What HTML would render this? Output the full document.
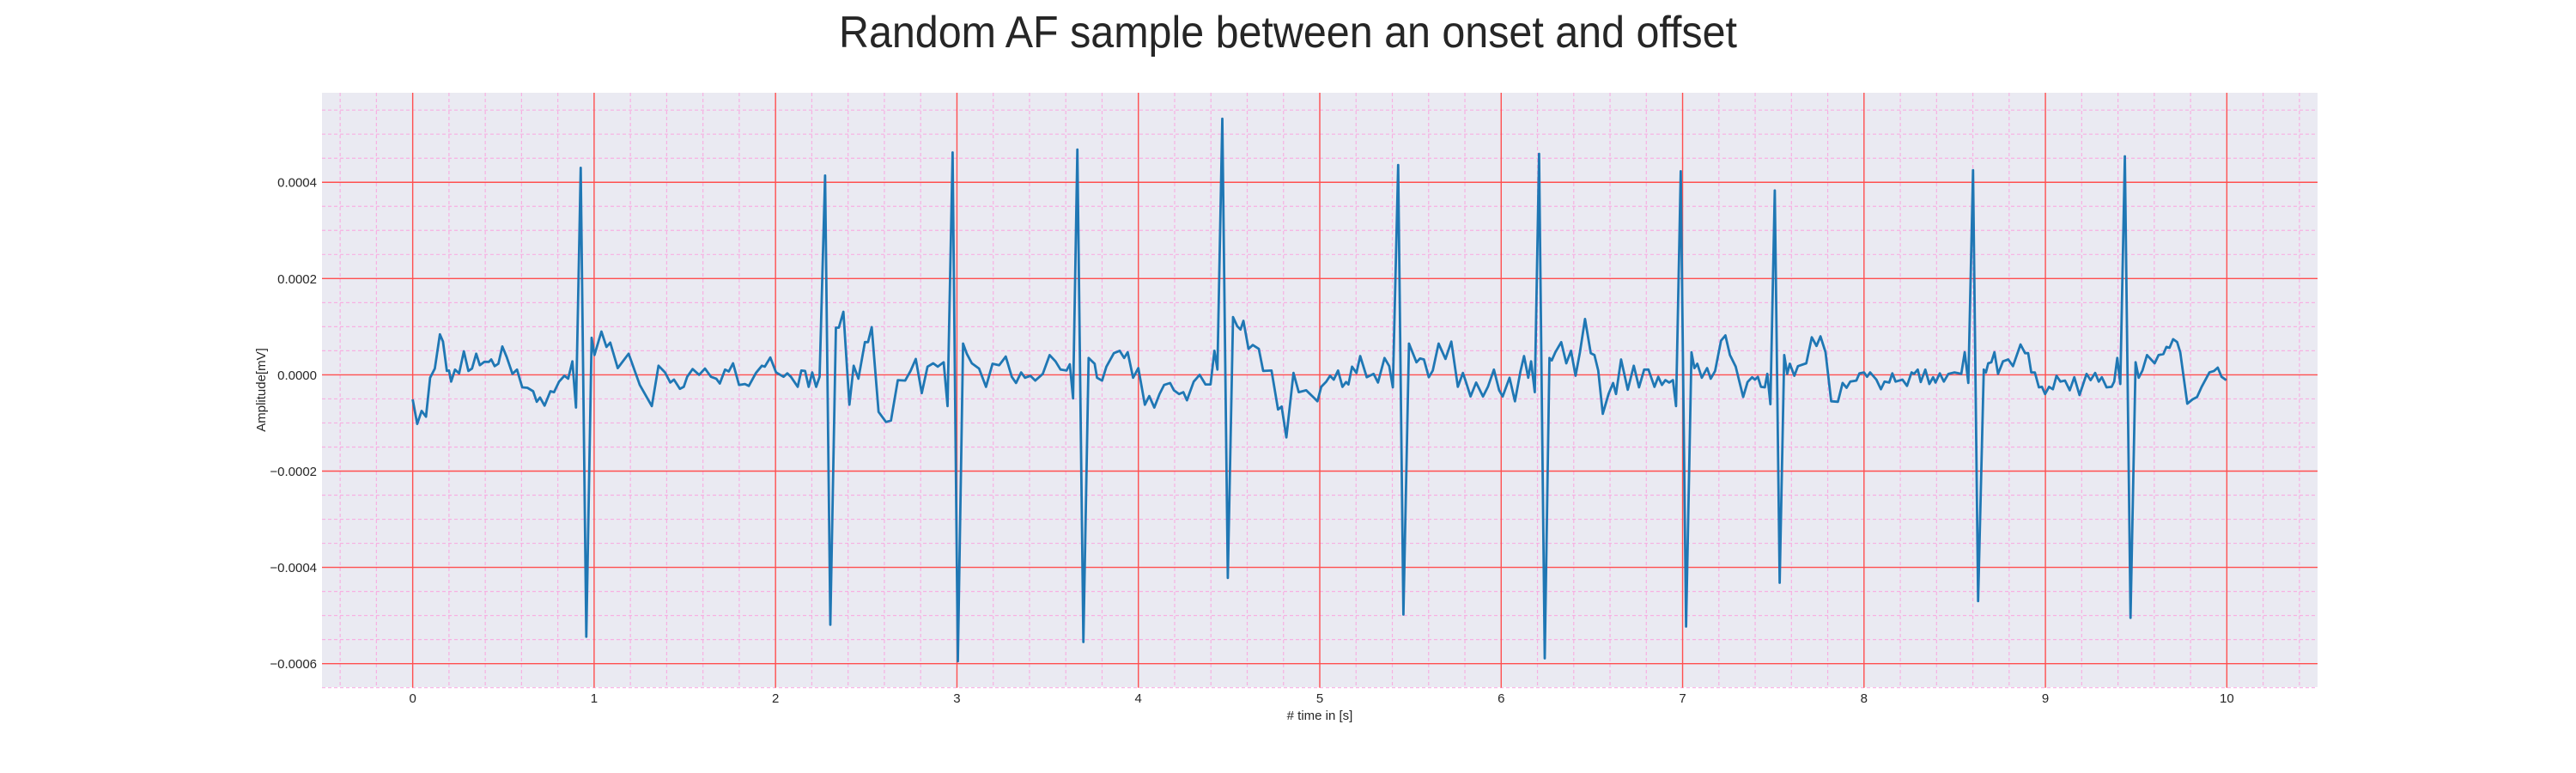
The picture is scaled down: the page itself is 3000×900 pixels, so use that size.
<!DOCTYPE html>
<html><head><meta charset="utf-8"><title>Random AF sample</title>
<style>
html,body{margin:0;padding:0;background:#fff;}
svg{display:block;font-family:"Liberation Sans",Arial,sans-serif;}
</style></head>
<body>
<svg id="chart" width="3000" height="900" viewBox="0 0 3000 900" xmlns="http://www.w3.org/2000/svg">
<text x="1500" y="55" text-anchor="middle" font-size="52" fill="#262626" textLength="1046" lengthAdjust="spacingAndGlyphs">Random AF sample between an onset and offset</text>
<rect x="375" y="108" width="2324" height="692" fill="#eaeaf2"/>
<g id="grid-minor"></g>
<g id="grid-major"></g>
<g id="xticks"></g>
<g id="yticks"></g>
<path id="signal" fill="none" stroke="#1f77b4" stroke-width="2.8" stroke-linejoin="round"/>
<text x="1537" y="838" text-anchor="middle" font-size="15" fill="#262626"># time in [s]</text>
<text transform="translate(309,454) rotate(-90)" text-anchor="middle" font-size="15" fill="#262626">Amplitude[mV]</text>
</svg>
<script>
// time in seconds
const times = [0,0.025,0.049,0.073,0.096,0.122,0.15,0.167,0.188,0.2,0.212,0.233,0.256,0.282,0.307,0.327,0.35,0.37,0.395,0.42,0.433,0.452,0.472,0.494,0.518,0.55,0.575,0.604,0.632,0.664,0.684,0.702,0.727,0.759,0.779,0.807,0.836,0.857,0.88,0.9,0.926,0.957,0.986,1.002,1.04,1.068,1.089,1.13,1.19,1.252,1.318,1.355,1.391,1.42,1.44,1.473,1.494,1.513,1.543,1.579,1.611,1.644,1.673,1.693,1.722,1.742,1.766,1.799,1.831,1.853,1.892,1.925,1.941,1.971,2.003,2.044,2.065,2.085,2.122,2.142,2.163,2.183,2.202,2.224,2.243,2.273,2.302,2.333,2.349,2.374,2.407,2.431,2.457,2.493,
2.51,2.53,2.568,2.609,2.636,2.674,2.715,2.744,2.773,2.806,2.838,2.869,2.894,2.927,2.948,2.976,3.005,3.034,3.054,3.082,3.122,3.16,3.196,3.233,3.269,3.302,3.326,3.354,3.375,3.405,3.432,3.473,3.511,3.543,3.571,3.604,3.622,3.64,3.664,3.697,3.726,3.759,3.772,3.8,3.824,3.865,3.897,3.922,3.941,3.971,4,4.036,4.06,4.088,4.117,4.142,4.175,4.196,4.224,4.248,4.268,4.305,4.338,4.37,4.398,4.419,4.436,4.463,4.493,4.522,4.545,4.563,4.579,4.607,4.631,4.664,4.688,4.734,4.77,4.79,4.816,4.855,4.884,4.925,4.966,
4.987,5.008,5.036,5.057,5.077,5.101,5.125,5.145,5.158,5.178,5.202,5.223,5.259,5.297,5.321,5.357,5.383,5.403,5.432,5.461,5.492,5.533,5.553,5.574,5.601,5.623,5.655,5.693,5.725,5.761,5.789,5.805,5.831,5.862,5.9,5.927,5.96,5.989,6.008,6.046,6.076,6.106,6.126,6.149,6.165,6.185,6.209,6.24,6.266,6.279,6.299,6.331,6.359,6.385,6.41,6.434,6.462,6.494,6.514,6.535,6.56,6.592,6.617,6.633,6.661,6.698,6.731,6.76,6.788,6.812,6.845,6.866,6.886,6.905,6.926,6.947,6.964,6.99,7.019,7.049,7.065,7.081,7.106,7.135,7.155,7.179,7.212,7.236,7.261,7.293,7.334,7.358,7.383,7.399,7.415,7.432,7.453,7.467,7.484,7.508,
7.535,7.56,7.577,7.591,7.616,7.636,7.682,7.712,7.738,7.76,7.788,7.819,7.856,7.882,7.904,7.924,7.958,7.975,8,8.017,8.034,8.068,8.093,8.113,8.139,8.156,8.174,8.212,8.237,8.262,8.276,8.296,8.313,8.338,8.36,8.381,8.394,8.418,8.44,8.465,8.499,8.536,8.555,8.575,8.601,8.629,8.66,8.672,8.685,8.702,8.719,8.739,8.766,8.795,8.821,8.863,8.888,8.905,8.922,8.942,8.964,8.981,8.998,9.02,9.041,9.061,9.083,9.108,9.134,9.159,9.188,9.227,9.249,9.274,9.294,9.311,9.337,9.365,9.379,9.396,9.413,9.438,9.469,9.497,9.514,9.535,9.56,9.602,9.624,9.65,9.667,9.684,9.704,9.726,9.743,9.782,9.811,9.836,9.861,9.904,9.929,9.95,9.971,9.997];
// amplitude in units of 1e-4 mV
const amps = [-0.51,-1.02,-0.75,-0.87,-0.06,0.13,0.84,0.69,0.08,0.09,-0.14,0.11,0.03,0.49,0.08,0.13,0.44,0.2,0.27,0.27,0.32,0.18,0.23,0.59,0.37,0.02,0.11,-0.26,-0.27,-0.34,-0.56,-0.47,-0.64,-0.34,-0.36,-0.14,-0.02,-0.08,0.28,-0.68,4.3,-5.44,0.77,0.41,0.9,0.58,0.67,0.14,0.44,-0.21,-0.65,0.19,0.05,-0.16,-0.1,-0.29,-0.25,-0.04,0.12,0,0.13,-0.04,-0.08,-0.18,0.11,0.07,0.24,-0.21,-0.19,-0.23,0.04,0.19,0.17,0.36,0.05,-0.04,0.03,-0.04,-0.25,0.09,0.08,-0.25,0.05,-0.25,-0.04,4.14,-5.19,0.98,0.98,1.31,-0.62,0.19,-0.08,0.68,
0.68,0.99,-0.77,-0.98,-0.95,-0.11,-0.12,0.08,0.33,-0.38,0.17,0.24,0.17,0.26,-0.65,4.62,-5.95,0.65,0.44,0.24,0.13,-0.25,0.23,0.2,0.38,-0.04,-0.17,0.05,-0.06,-0.02,-0.12,0.02,0.41,0.28,0.11,0.09,0.22,-0.49,4.68,-5.55,0.35,0.23,-0.06,-0.12,0.17,0.45,0.5,0.35,0.47,-0.06,0.14,-0.62,-0.44,-0.68,-0.4,-0.21,-0.17,-0.32,-0.4,-0.36,-0.53,-0.14,0,-0.2,-0.2,0.5,0.11,5.32,-4.22,1.2,1.01,0.94,1.12,0.54,0.62,0.54,0.08,0.09,-0.72,-0.66,-1.3,0.04,-0.36,-0.32,-0.47,
-0.55,-0.25,-0.14,-0.02,-0.1,0.09,-0.25,-0.15,-0.2,0.17,0.04,0.39,-0.05,0.02,-0.16,0.35,0.18,-0.26,4.36,-4.98,0.65,0.26,0.34,0.32,-0.05,0.09,0.65,0.33,0.69,-0.25,0.04,-0.14,-0.45,-0.16,-0.45,-0.25,0.11,-0.32,-0.45,-0.06,-0.55,0.07,0.39,-0.06,0.28,-0.36,4.59,-5.89,0.35,0.3,0.47,0.68,0.24,0.5,-0.02,0.47,1.16,0.45,0.41,0.09,-0.81,-0.4,-0.17,-0.4,0.32,-0.31,0.19,-0.26,0.11,0.11,-0.25,-0.04,-0.21,-0.11,-0.16,-0.11,-0.65,4.23,-5.23,0.47,0.14,0.23,-0.06,0.14,-0.08,0.08,0.71,0.82,0.41,0.17,-0.46,-0.15,-0.05,-0.1,-0.04,-0.25,-0.26,0.02,-0.61,3.83,
-4.32,0.41,0.02,0.23,-0.02,0.18,0.24,0.78,0.6,0.8,0.47,-0.55,-0.56,-0.17,-0.27,-0.14,-0.12,0.03,0.05,-0.04,0.05,-0.1,-0.3,-0.14,-0.16,0.03,-0.14,-0.1,-0.23,0.05,0.02,0.11,-0.15,0.11,-0.19,-0.05,-0.16,0.03,-0.14,0.02,0.05,0.02,0.47,-0.17,4.25,-4.7,0.11,0.05,0.24,0.26,0.47,0.02,0.28,0.32,0.18,0.63,0.45,0.45,0.05,0.05,-0.26,-0.25,-0.4,-0.25,-0.3,-0.02,-0.14,-0.12,-0.32,-0.05,-0.42,0.02,-0.11,0.04,-0.14,-0.05,-0.26,-0.25,-0.14,0.35,-0.19,4.54,-5.05,0.26,-0.06,0.09,0.41,0.24,0.41,0.43,0.58,0.56,0.74,0.68,0.47,-0.6,-0.51,-0.46,-0.25,0.05,0.08,0.15,-0.04,-0.11];
const xTickValues = [0,1,2,3,4,5,6,7,8,9,10];
const yTickValues = [0.0004,0.0002,0.0000,-0.0002,-0.0004,-0.0006];
const yTickLabels = ["0.0004","0.0002","0.0000","\u22120.0002","\u22120.0004","\u22120.0006"];

const NS = "http://www.w3.org/2000/svg";
const X0 = 375, X1 = 2699, Y0 = 108, Y1 = 800.7;
const xMin = -0.5, xMax = 10.5, yMin = -0.00065, yMax = 0.000586;
function xs(t){ return X0 + (t - xMin) / (xMax - xMin) * (X1 - X0); }
function ys(v){ return Y1 - (v - yMin) / (yMax - yMin) * (Y1 - Y0); }

function line(g, x1, y1, x2, y2, stroke, w, dash){
  const l = document.createElementNS(NS, "line");
  l.setAttribute("x1", x1); l.setAttribute("y1", y1);
  l.setAttribute("x2", x2); l.setAttribute("y2", y2);
  l.setAttribute("stroke", stroke); l.setAttribute("stroke-width", w);
  if (dash) l.setAttribute("stroke-dasharray", dash);
  g.appendChild(l);
  return l;
}

const gMin = document.getElementById("grid-minor");
for (let i = -4; i <= 104; i += 2) {
  const t = i / 10;
  if (i % 10 === 0) continue;
  const l = line(gMin, xs(t), Y0, xs(t), Y1, "#f7b0e2", 1.2, "4,3");
  
  
}
for (let k = -13; k <= 11; k++) {
  const v = k * 0.00005;
  if (k % 4 === 0) continue;
  const l = line(gMin, X0, ys(v), X1, ys(v), "#f7b0e2", 1.2, "4,3");
  
  
}
const gMaj = document.getElementById("grid-major");
const gx = document.getElementById("xticks");
xTickValues.forEach(t => {
  const l = line(gMaj, xs(t), Y0, xs(t), Y1, "#ff4f4f", 1.4);
  
  
  const tx = document.createElementNS(NS, "text");
  tx.setAttribute("x", xs(t)); tx.setAttribute("y", 818);
  tx.setAttribute("text-anchor", "middle"); tx.setAttribute("font-size", "15");
  tx.setAttribute("fill", "#262626");
  tx.textContent = String(t);
  
  
  gx.appendChild(tx);
});
const gy = document.getElementById("yticks");
yTickValues.forEach((v, i) => {
  const l = line(gMaj, X0, ys(v), X1, ys(v), "#ff4f4f", 1.4);
  
  
  const tx = document.createElementNS(NS, "text");
  tx.setAttribute("x", 369); tx.setAttribute("y", ys(v) + 5.5);
  tx.setAttribute("text-anchor", "end"); tx.setAttribute("font-size", "15");
  tx.setAttribute("fill", "#262626");
  tx.textContent = yTickLabels[i];
  
  
  gy.appendChild(tx);
});

let d = "";
times.forEach((t, i) => {
  d += (i ? "L" : "M") + xs(t).toFixed(1) + "," + ys(amps[i] * 1e-4).toFixed(1);
});
document.getElementById("signal").setAttribute("d", d);
</script>
</body></html>
